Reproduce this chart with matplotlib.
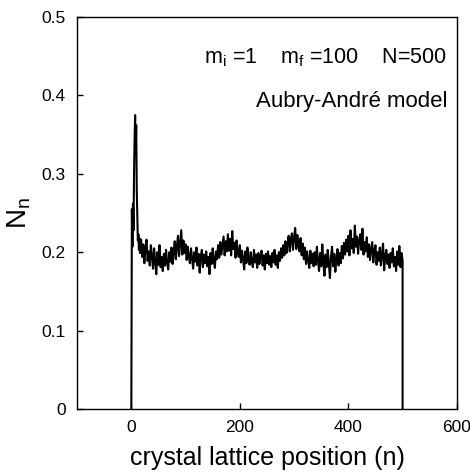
import matplotlib
matplotlib.use("Agg")
import matplotlib.pyplot as plt
import numpy as np

plt.rcParams['font.family'] = ['Liberation Sans', 'DejaVu Sans']

# spike region at the start of the chain, one value per site
head_n = list(range(17))
head_Nn = [0.0, 0.255, 0.207, 0.262, 0.228, 0.300, 0.345, 0.375, 0.330,
           0.362, 0.280, 0.245, 0.215, 0.223, 0.203, 0.218, 0.199]

# plateau, every second site from n=18 to n=498
band_n = list(range(18, 499, 2))
band_Nn = [
    0.216, 0.194, 0.210, 0.186, 0.205, 0.216, 0.189, 0.201, 0.183, 0.209,
    0.195, 0.179, 0.205, 0.187, 0.172, 0.200, 0.184, 0.209, 0.181, 0.194,
    0.176, 0.198, 0.183, 0.203, 0.186, 0.178, 0.200, 0.188, 0.206, 0.185,
    0.201, 0.214, 0.191, 0.208, 0.221, 0.195, 0.212, 0.228, 0.197, 0.215,
    0.199, 0.210, 0.190, 0.207, 0.194, 0.186, 0.205, 0.192, 0.179, 0.200,
    0.188, 0.206, 0.183, 0.198, 0.174, 0.195, 0.203, 0.181, 0.197, 0.186,
    0.201, 0.182, 0.194, 0.172, 0.199, 0.185, 0.205, 0.189, 0.180, 0.201,
    0.191, 0.209, 0.193, 0.213, 0.197, 0.208, 0.220, 0.196, 0.214, 0.201,
    0.223, 0.202, 0.217, 0.196, 0.227, 0.204, 0.212, 0.193, 0.215, 0.199,
    0.194, 0.209, 0.187, 0.202, 0.191, 0.178, 0.201, 0.186, 0.206, 0.190,
    0.184, 0.200, 0.188, 0.181, 0.203, 0.187, 0.197, 0.180, 0.199, 0.185,
    0.194, 0.202, 0.183, 0.196, 0.178, 0.198, 0.186, 0.201, 0.184, 0.195,
    0.181, 0.199, 0.187, 0.203, 0.184, 0.196, 0.180, 0.200, 0.189, 0.205,
    0.193, 0.209, 0.196, 0.214, 0.199, 0.211, 0.221, 0.201, 0.216, 0.224,
    0.203, 0.219, 0.231, 0.204, 0.222, 0.209, 0.201, 0.218, 0.196, 0.211,
    0.191, 0.206, 0.185, 0.201, 0.189, 0.180, 0.202, 0.186, 0.198, 0.182,
    0.200, 0.184, 0.207, 0.189, 0.176, 0.199, 0.182, 0.210, 0.186, 0.170,
    0.197, 0.181, 0.203, 0.187, 0.167, 0.194, 0.207, 0.182, 0.198, 0.175,
    0.192, 0.204, 0.183, 0.199, 0.186, 0.208, 0.192, 0.212, 0.197, 0.216,
    0.201, 0.221, 0.196, 0.228, 0.205, 0.217, 0.199, 0.234, 0.207, 0.220,
    0.198, 0.215, 0.223, 0.203, 0.230, 0.197, 0.213, 0.201, 0.219, 0.194,
    0.210, 0.190, 0.205, 0.213, 0.187, 0.202, 0.209, 0.184, 0.200, 0.189,
    0.206, 0.183, 0.198, 0.211, 0.177, 0.195, 0.203, 0.185, 0.197, 0.180,
    0.199, 0.187, 0.205, 0.182, 0.194, 0.176, 0.201, 0.184, 0.208, 0.181, 0.199,
]

# drop to zero at the end of the chain
tail_n = [500, 500]
tail_Nn = [0.190, 0.0]

x_ticks = [0, 200, 400, 600]
y_ticks = [0, 0.1, 0.2, 0.3, 0.4, 0.5]
y_tick_labels = ['0', '0.1', '0.2', '0.3', '0.4', '0.5']

n = head_n + band_n + tail_n
Nn = head_Nn + band_Nn + tail_Nn

fig = plt.figure(figsize=(4.70, 4.75), dpi=100)
ax = fig.add_axes([0.164, 0.139, 0.808, 0.825])

ax.plot(n, Nn, color='black', linewidth=1.5)

ax.set_xlim(-100, 600)
ax.set_ylim(0, 0.5)
ax.set_xticks(x_ticks)
ax.set_yticks(y_ticks)
ax.set_yticklabels(y_tick_labels)
ax.tick_params(direction='in', length=4, width=1, labelsize=12.5, pad=8)
for s in ax.spines.values():
    s.set_linewidth(1.0)

ax.set_xlabel('crystal lattice position (n)', fontsize=18, labelpad=8)
ax.set_ylabel(r'N$_\mathregular{n}$', fontsize=20)
ax.yaxis.set_label_coords(-0.115, 0.5)

ax.text(0.975, 0.897, r'm$_\mathregular{i}$ =1    m$_\mathregular{f}$ =100    N=500',
        transform=ax.transAxes, ha='right', va='center', fontsize=15.5)
ax.text(0.975, 0.785, 'Aubry-André model', transform=ax.transAxes,
        ha='right', va='center', fontsize=16)

fig.savefig('out.png', dpi=100)
